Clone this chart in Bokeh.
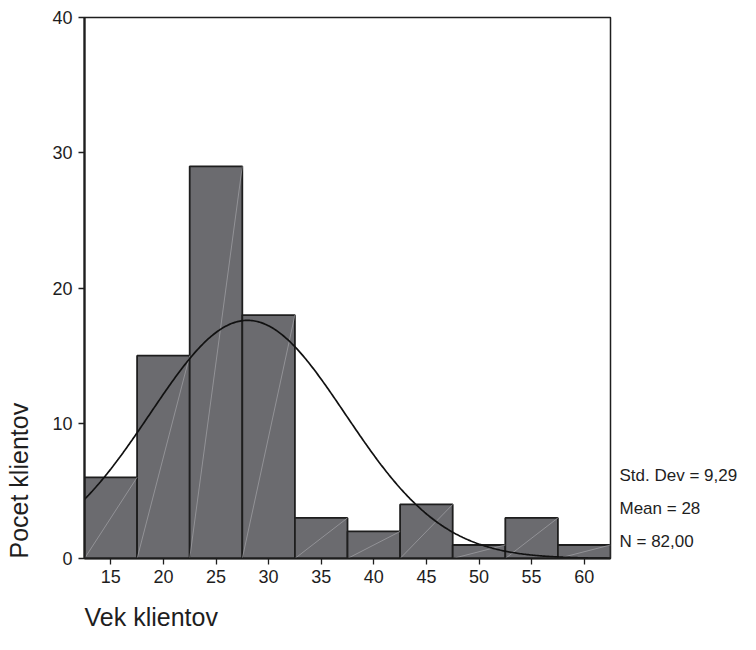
import numpy as np
from bokeh.plotting import figure
from bokeh.models import FixedTicker, Range1d, ColumnDataSource, LinearAxis, Title
from bokeh.embed import file_html
from bokeh.resources import INLINE

# ---- data ----
age_centers = [15, 20, 25, 30, 35, 40, 45, 50, 55, 60]
client_counts = [6, 15, 29, 18, 3, 2, 4, 1, 3, 1]
bin_width = 5
x_ticks = [15, 20, 25, 30, 35, 40, 45, 50, 55, 60]
y_ticks = [0, 10, 20, 30, 40]
std_dev = 9.29
mean_age = 28.0
n_total = 82
stats_lines = ["Std. Dev = 9,29", "Mean = 28", "N = 82,00"]
x_title = "Vek klientov"
y_title = "Pocet klientov"

FONT = "Liberation Sans"
INK = "#1e1e1e"

# ---- layout constants (pixels) ----
W, H = 740, 634
FRAME_L, FRAME_R, FRAME_T, FRAME_B = 84, 611, 17, 558
STATS_CENTERS = [475, 508, 541]   # vertical centres of the three stats lines
STATS_STEP = 33

lefts = [c - bin_width / 2 for c in age_centers]
rights = [c + bin_width / 2 for c in age_centers]
src = ColumnDataSource(dict(x=age_centers, top=client_counts, left=lefts, right=rights,
                            zero=[0] * len(age_centers)))

x_lo, x_hi = lefts[0], rights[-1]

# range for the right-hand "stats" axis so that ticks 3,2,1 land on the wanted rows
s_lo = 1 - (FRAME_B - STATS_CENTERS[2]) / STATS_STEP
s_hi = 3 + (STATS_CENTERS[0] - FRAME_T) / STATS_STEP

p = figure(width=W, height=H, output_backend="svg", toolbar_location=None,
           x_range=Range1d(x_lo, x_hi), y_range=Range1d(0, 40),
           min_border_left=FRAME_L, min_border_right=W - FRAME_R,
           min_border_top=FRAME_T, min_border_bottom=H - FRAME_B)
p.extra_y_ranges = {"stats": Range1d(s_lo, s_hi)}

p.vbar(x="x", top="top", width=bin_width, source=src, fill_color="#6b6b6f",
       line_color=INK, line_width=1.8)
p.segment(x0="left", y0="zero", x1="right", y1="top", source=src,
          line_color="#a3a3a7", line_width=0.7)

# fitted normal curve from the stats shown on the chart
xs = np.linspace(x_lo, x_hi, 400)
scale = n_total * bin_width / (std_dev * np.sqrt(2 * np.pi))
ys = scale * np.exp(-0.5 * ((xs - mean_age) / std_dev) ** 2)
p.line(xs, ys, line_color="#111111", line_width=1.7)

p.xgrid.visible = False
p.ygrid.visible = False
p.outline_line_color = INK
p.outline_line_width = 1.5
p.outline_line_alpha = 1

for ax, ticks in ((p.xaxis[0], x_ticks), (p.yaxis[0], y_ticks)):
    ax.ticker = FixedTicker(ticks=ticks)
    ax.minor_tick_line_color = None
    ax.major_tick_in = 0
    ax.major_tick_out = 6
    ax.major_tick_line_color = INK
    ax.major_tick_line_width = 1.3
    ax.axis_line_color = INK
    ax.axis_line_width = 2.2
    ax.major_label_text_font = FONT
    ax.major_label_text_font_size = "18px"
    ax.major_label_text_color = INK
    # invisible spacer label that pushes the titles outward
    ax.axis_label = " "
    ax.axis_label_text_font_size = "1px"
p.xaxis[0].major_label_standoff = 5
p.yaxis[0].major_label_standoff = 6
p.xaxis[0].axis_label_standoff = 10
p.yaxis[0].axis_label_standoff = 12

# stats block as tick labels of an extra right axis
overrides = {}
for i, line in enumerate(stats_lines):
    overrides[3 - i] = line
    overrides[str(3 - i)] = line
stats_axis = LinearAxis(y_range_name="stats", ticker=FixedTicker(ticks=[1, 2, 3]),
                        major_label_overrides=overrides,
                        axis_line_color=None, major_tick_line_color=None,
                        minor_tick_line_color=None, major_tick_in=0, major_tick_out=0,
                        major_label_standoff=9, major_label_text_font=FONT,
                        major_label_text_font_size="17px", major_label_text_color=INK)
p.add_layout(stats_axis, "right")

# axis titles
p.add_layout(Title(text=y_title, align="left", vertical_align="bottom", standoff=2,
                   text_font=FONT, text_font_size="25px", text_font_style="normal",
                   text_color=INK), "left")
p.add_layout(Title(text=x_title, align="left", vertical_align="bottom", standoff=2,
                   text_font=FONT, text_font_size="25px", text_font_style="normal",
                   text_color=INK), "below")

open("out.html", "w").write(file_html(p, INLINE))
